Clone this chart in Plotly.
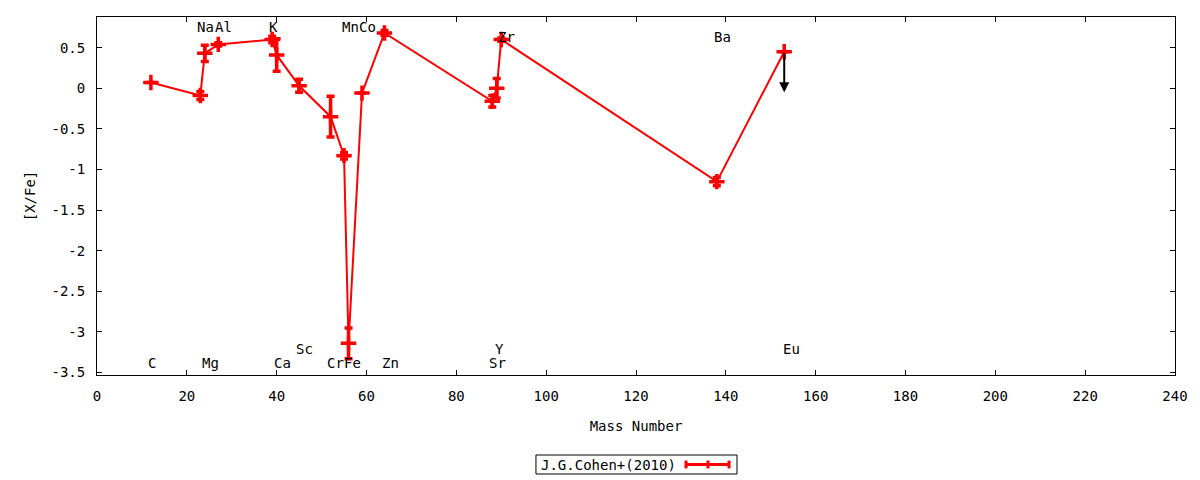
import plotly.graph_objects as go

# J.G.Cohen+(2010) abundances
mass_number = [12, 23, 24, 27, 39, 40, 45, 52, 55, 56, 59, 64, 88, 89, 90, 138, 153]
x_fe = [0.07, -0.09, 0.43, 0.54, 0.60, 0.41, 0.03, -0.35, -0.83, -3.14, -0.06, 0.68,
        -0.16, 0.00, 0.60, -1.15, 0.45]
x_fe_err = [0.0, 0.05, 0.10, 0.02, 0.04, 0.20, 0.08, 0.25, 0.04, 0.19, 0.0, 0.03,
            0.07, 0.12, 0.02, 0.05, 0.0]

# upper limit (Eu)
limit_mass = [153]
limit_top = [0.45]
limit_bottom = [-0.05]

# element labels
label_text = ["C", "Na", "Mg", "Al", "K", "Ca", "Sc", "Cr", "Fe", "Mn", "Co", "Zn",
              "Sr", "Y", "Zr", "Ba", "Eu"]
label_x = [12.2, 24.2, 25.2, 28.1, 39.2, 41.2, 46.1, 53.2, 56.9, 56.5, 60.2, 65.3,
           89.2, 89.6, 91.2, 139.3, 154.6]
label_y = [-3.38, 0.75, -3.38, 0.75, 0.75, -3.38, -3.21, -3.38, -3.38, 0.75, 0.75, -3.38,
           -3.38, -3.21, 0.63, 0.63, -3.21]

x_ticks = list(range(0, 241, 20))
y_ticks = [0.5, 0, -0.5, -1, -1.5, -2, -2.5, -3, -3.5]
y_ticktext = ["0.5", "0", "-0.5", "-1", "-1.5", "-2", "-2.5", "-3", "-3.5"]

series_name = "J.G.Cohen+(2010)"

FONT = "DejaVu Sans Mono"
RED = "#ff0000"

fig = go.Figure()

fig.add_trace(go.Scatter(
    x=mass_number, y=x_fe,
    mode="lines+markers",
    name=series_name,
    showlegend=False,
    line=dict(color=RED, width=2),
    marker=dict(symbol="cross-thin", size=11, color=RED, line=dict(color=RED, width=3.5)),
    error_y=dict(type="data", array=x_fe_err, visible=True, color=RED, thickness=3.5, width=4),
))

for m, top, bot in zip(limit_mass, limit_top, limit_bottom):
    fig.add_annotation(
        x=m, y=bot, ax=m, ay=top, xref="x", yref="y", axref="x", ayref="y",
        showarrow=True, arrowhead=2, arrowsize=1, arrowwidth=2, arrowcolor="black", text="",
    )

for t, lx, ly in zip(label_text, label_x, label_y):
    fig.add_annotation(x=lx, y=ly, text=t, showarrow=False,
                       font=dict(family=FONT, size=14, color="black"))

# gnuplot-style key below the plot: text first, then the sample
key_y = -0.25
fig.add_shape(type="rect", xref="paper", yref="paper", x0=0.4072, x1=0.5937,
              y0=-0.2765, y1=-0.2235, line=dict(color="black", width=1),
              fillcolor="white")
fig.add_annotation(xref="paper", yref="paper", x=0.5385, y=key_y,
                   xanchor="right", yanchor="middle",
                   text=series_name, showarrow=False,
                   font=dict(family=FONT, size=14, color="black"))
fig.add_shape(type="line", xref="paper", yref="paper", x0=0.5464, x1=0.5863,
              y0=key_y, y1=key_y, line=dict(color=RED, width=3))
for kx in [0.5464, 0.5668, 0.5863]:
    fig.add_shape(type="line", xref="paper", yref="paper", x0=kx, x1=kx,
                  y0=key_y - 0.011, y1=key_y + 0.011, line=dict(color=RED, width=3))

axis_common = dict(
    showline=True, linecolor="black", linewidth=1, mirror="ticks",
    ticks="inside", ticklen=5, tickcolor="black", showgrid=False, zeroline=False,
    tickfont=dict(family=FONT, size=14, color="black"),
)

fig.update_xaxes(range=[0, 240], tickvals=x_ticks, ticklabelstandoff=8,
                 title=dict(text="Mass Number", standoff=18,
                            font=dict(family=FONT, size=14, color="black")),
                 **axis_common)
fig.update_yaxes(range=[-3.53, 0.877], tickvals=y_ticks, ticktext=y_ticktext,
                 ticklabelstandoff=8,
                 title=dict(text="[X/Fe]", standoff=12,
                            font=dict(family=FONT, size=14, color="black")),
                 **axis_common)

# the page body adds 8px around the figure
fig.update_layout(
    width=1192, height=472,
    margin=dict(l=89, r=25, t=9, b=105),
    paper_bgcolor="white", plot_bgcolor="white",
    font=dict(family=FONT, size=14, color="black"),
    showlegend=False,
)

fig.write_html("out.html")
